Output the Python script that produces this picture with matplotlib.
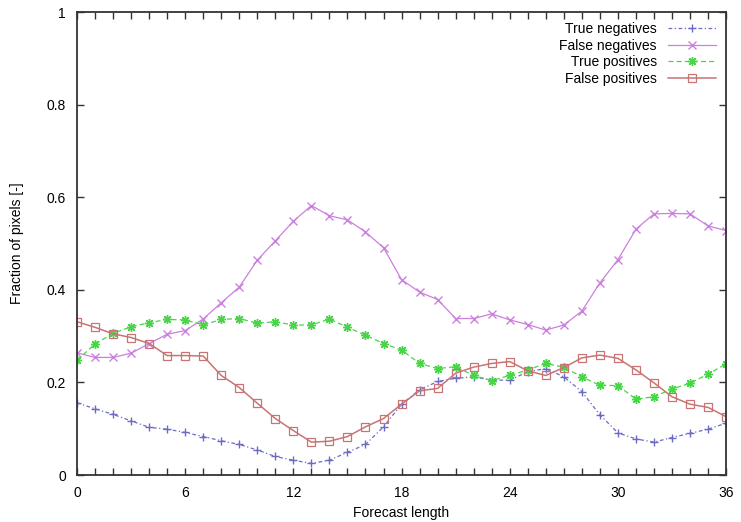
import matplotlib
matplotlib.use("Agg")
import matplotlib.pyplot as plt
from matplotlib.ticker import MultipleLocator, FuncFormatter

plt.rcParams['font.family'] = ['Liberation Sans', 'DejaVu Sans']

forecast_hours = list(range(0, 37))

true_negatives = [0.156, 0.143, 0.131, 0.117, 0.103, 0.099, 0.092, 0.083, 0.074, 0.066,
                  0.054, 0.040, 0.032, 0.025, 0.032, 0.049, 0.066, 0.104, 0.153, 0.184,
                  0.202, 0.209, 0.212, 0.205, 0.205, 0.223, 0.230, 0.212, 0.180, 0.130,
                  0.091, 0.078, 0.071, 0.081, 0.090, 0.099, 0.112]

false_negatives = [0.264, 0.254, 0.254, 0.263, 0.284, 0.304, 0.312, 0.337, 0.372, 0.406,
                   0.464, 0.506, 0.548, 0.582, 0.560, 0.551, 0.525, 0.491, 0.422, 0.395,
                   0.379, 0.338, 0.338, 0.348, 0.335, 0.325, 0.313, 0.324, 0.354, 0.415,
                   0.465, 0.531, 0.564, 0.565, 0.564, 0.538, 0.528]

true_positives = [0.248, 0.283, 0.306, 0.320, 0.329, 0.336, 0.335, 0.324, 0.336, 0.338,
                  0.328, 0.331, 0.324, 0.324, 0.337, 0.319, 0.302, 0.284, 0.270, 0.241,
                  0.230, 0.234, 0.215, 0.204, 0.215, 0.227, 0.241, 0.233, 0.212, 0.194,
                  0.193, 0.164, 0.169, 0.186, 0.198, 0.218, 0.240]

false_positives = [0.331, 0.319, 0.305, 0.297, 0.284, 0.258, 0.258, 0.257, 0.215, 0.189,
                   0.155, 0.122, 0.096, 0.071, 0.073, 0.083, 0.104, 0.122, 0.153, 0.182,
                   0.187, 0.220, 0.233, 0.241, 0.245, 0.225, 0.215, 0.232, 0.253, 0.259,
                   0.252, 0.227, 0.199, 0.169, 0.153, 0.146, 0.126]

labels = ["True negatives", "False negatives", "True positives", "False positives"]

fig = plt.figure(figsize=(7.41, 5.22), dpi=100)
ax = fig.add_axes([0.1039, 0.090, 0.876, 0.887])

ax.plot(forecast_hours, true_negatives, color='#6b6bc4', lw=0.9,
        linestyle=(0, (3, 2, 1, 2)), marker='+', ms=6, mew=1.0, label=labels[0])
ax.plot(forecast_hours, false_negatives, color='#cc80de', lw=0.9,
        linestyle='-', marker='x', ms=6, mew=1.0, label=labels[1])
ax.plot(forecast_hours, true_positives, color='#48d648', lw=0.9,
        linestyle=(0, (4, 2.5)), marker=(8, 2, 0), ms=6.5, mew=1.0, label=labels[2])
ax.plot(forecast_hours, false_positives, color='#c87474', lw=1.1,
        linestyle='-', marker='s', ms=6, mew=0.9, mfc='none', label=labels[3])

ax.set_xlim(0, 36)
ax.set_ylim(0, 1)
ax.xaxis.set_major_locator(MultipleLocator(6))
ax.xaxis.set_minor_locator(MultipleLocator(1))
ax.yaxis.set_major_locator(MultipleLocator(0.2))
ax.yaxis.set_major_formatter(FuncFormatter(lambda v, p: f"{v:g}"))

ax.tick_params(which='both', direction='in', top=True, right=True,
               length=5, width=1.0, color='#333333', labelsize=10, pad=8)
for s in ax.spines.values():
    s.set_linewidth(1.3)
    s.set_color('#333333')

ax.set_xlabel("Forecast length", fontsize=10, labelpad=4)
ax.set_ylabel("Fraction of pixels [-]", fontsize=10)
ax.yaxis.set_label_coords(-0.082, 0.5)

leg = ax.legend(loc='upper right', frameon=False, markerfirst=False, fontsize=10,
                handlelength=3.5, handletextpad=0.8, labelspacing=0.2,
                borderaxespad=0.3)

fig.savefig("out.png", dpi=100)
